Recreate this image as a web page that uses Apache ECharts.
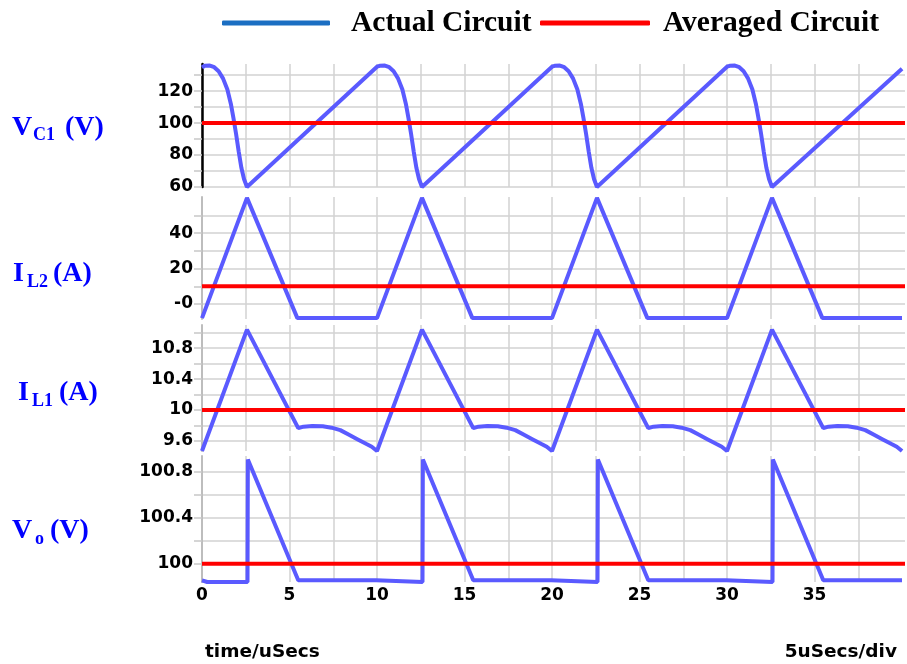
<!DOCTYPE html>
<html>
<head>
<meta charset="utf-8">
<script src="https://cdn.jsdelivr.net/npm/echarts@6/dist/echarts.min.js"></script>
<style>
  html, body { margin: 0; padding: 0; background: #fff; }
  #chart { width: 907px; height: 664px; }
</style>
</head>
<body>
<div id="chart"></div>
<script>
// ---- simulation data (time in microseconds) ----
const vc1Time = [0, 0.15, 0.45, 0.7, 0.95, 1.2, 1.45, 1.65, 1.8, 1.95, 2.1, 2.25, 2.4, 2.57,
  10, 10.15, 10.45, 10.7, 10.95, 11.2, 11.45, 11.65, 11.8, 11.95, 12.1, 12.25, 12.4, 12.57,
  20, 20.15, 20.45, 20.7, 20.95, 21.2, 21.45, 21.65, 21.8, 21.95, 22.1, 22.25, 22.4, 22.57,
  30, 30.15, 30.45, 30.7, 30.95, 31.2, 31.45, 31.65, 31.8, 31.95, 32.1, 32.25, 32.4, 32.57,
  40];
const vc1Values = [134.8, 135.9, 136, 135, 132.5, 128, 121, 112, 103, 93, 82, 72, 65, 60,
  135.3, 135.9, 136, 135, 132.5, 128, 121, 112, 103, 93, 82, 72, 65, 60,
  135.3, 135.9, 136, 135, 132.5, 128, 121, 112, 103, 93, 82, 72, 65, 60,
  135.3, 135.9, 136, 135, 132.5, 128, 121, 112, 103, 93, 82, 72, 65, 60,
  134];

const il2Time = [0, 2.57, 5.45, 10, 12.57, 15.45, 20, 22.57, 25.45, 30, 32.57, 35.45, 40];
const il2Values = [-8, 60, -8, -8, 60, -8, -8, 60, -8, -8, 60, -8, -8];

const il1Time = [0, 2.57, 5.5, 5.8, 6.3, 6.9, 7.4, 7.9, 8.4, 8.9, 9.4, 9.7,
  10, 12.57, 15.5, 15.8, 16.3, 16.9, 17.4, 17.9, 18.4, 18.9, 19.4, 19.7,
  20, 22.57, 25.5, 25.8, 26.3, 26.9, 27.4, 27.9, 28.4, 28.9, 29.4, 29.7,
  30, 32.57, 35.5, 35.8, 36.3, 36.9, 37.4, 37.9, 38.4, 38.9, 39.4, 39.7,
  40];
const il1Values = [9.47, 11.04, 9.765, 9.785, 9.792, 9.79, 9.772, 9.74, 9.68, 9.62, 9.56, 9.525,
  9.47, 11.04, 9.765, 9.785, 9.792, 9.79, 9.772, 9.74, 9.68, 9.62, 9.56, 9.525,
  9.47, 11.04, 9.765, 9.785, 9.792, 9.79, 9.772, 9.74, 9.68, 9.62, 9.56, 9.525,
  9.47, 11.04, 9.765, 9.785, 9.792, 9.79, 9.772, 9.74, 9.68, 9.62, 9.56, 9.525,
  9.47];

const voTime = [0, 0.3, 2.6, 2.62, 5.5, 9.95, 10, 12.6, 12.62, 15.5, 19.95, 20, 22.6, 22.62,
  25.5, 29.95, 30, 32.6, 32.62, 35.5, 40];
const voValues = [99.855, 99.84, 99.84, 100.91, 99.855, 99.855, 99.84, 99.84, 100.91, 99.855,
  99.855, 99.84, 99.84, 100.91, 99.855, 99.855, 99.84, 99.84, 100.91, 99.855, 99.855];

// averaged-model results (constant over the window)
const avgTime = [0, 40.17];
const vc1Avg = [100, 100];
const il2Avg = [10, 10];
const il1Avg = [10, 10];
const voAvg = [100, 100];

// axis ticks and labels
const timeTicks = [0, 2.5, 5, 7.5, 10, 12.5, 15, 17.5, 20, 22.5, 25, 27.5, 30, 32.5, 35, 37.5];
const timeLabels = [0, 5, 10, 15, 20, 25, 30, 35];
const vc1Ticks = [60, 70, 80, 90, 100, 110, 120, 130];
const vc1Labels = [60, 80, 100, 120];
const il2Ticks = [0, 10, 20, 30, 40, 50];
const il2Labels = [0, 20, 40];
const il1Ticks = [9.6, 9.8, 10, 10.2, 10.4, 10.6, 10.8, 11];
const il1Labels = [9.6, 10, 10.4, 10.8];
const voTicks = [100, 100.2, 100.4, 100.6, 100.8];
const voLabels = [100, 100.4, 100.8];

const seriesNames = ['Actual Circuit', 'Averaged Circuit'];

const zip = (t, v) => t.map((x, i) => [x, v[i]]);

const ACTUAL = '#5a5aff';
const AVG = '#ff0000';
const GRID_LINE = '#d2d2d2';
const labelFont = { fontFamily: 'DejaVu Sans', fontWeight: 'bold', fontSize: 17, color: '#000' };
const serif = 'Liberation Serif, Times New Roman, serif';

const panels = [
  { top: 64, height: 123, min: 60, max: 137, ticks: vc1Ticks, labels: vc1Labels,
    fmt: v => String(v), axisColor: '#000', axisWidth: 2.5,
    actual: zip(vc1Time, vc1Values), avg: zip(avgTime, vc1Avg) },
  { top: 197, height: 122, min: -8.5, max: 60.5, ticks: il2Ticks, labels: il2Labels,
    fmt: v => (v === 0 ? '-0' : String(v)), axisColor: '#bdbdbd', axisWidth: 2,
    actual: zip(il2Time, il2Values), avg: zip(avgTime, il2Avg) },
  { top: 325, height: 126, min: 9.47, max: 11.1, ticks: il1Ticks, labels: il1Labels,
    fmt: v => String(+v.toFixed(1)), axisColor: '#bdbdbd', axisWidth: 2,
    actual: zip(il1Time, il1Values), avg: zip(avgTime, il1Avg) },
  { top: 456, height: 126, min: 99.84, max: 100.94, ticks: voTicks, labels: voLabels,
    fmt: v => String(+v.toFixed(1)), axisColor: '#bdbdbd', axisWidth: 2,
    actual: zip(voTime, voValues), avg: zip(avgTime, voAvg) }
];

const grid = [], xAxis = [], yAxis = [], series = [];
panels.forEach((p, i) => {
  grid.push({ left: 202, width: 703, top: p.top, height: p.height });
  const last = i === panels.length - 1;
  xAxis.push({
    type: 'value', gridIndex: i, min: 0, max: 40.17,
    axisLine: { show: false },
    axisTick: { show: false, customValues: timeTicks },
    splitLine: { show: true, lineStyle: { color: GRID_LINE, width: 1.5 } },
    axisLabel: Object.assign({ show: last, customValues: timeLabels, margin: 5 }, labelFont)
  });
  yAxis.push({
    type: 'value', gridIndex: i, min: p.min, max: p.max,
    axisLine: { show: true, lineStyle: { color: p.axisColor, width: p.axisWidth } },
    axisTick: { show: true, length: 8, customValues: p.ticks, lineStyle: { color: '#c8c8c8', width: 1.5 } },
    splitLine: { show: true, lineStyle: { color: GRID_LINE, width: 1.5 } },
    axisLabel: Object.assign({ customValues: p.labels, formatter: p.fmt, margin: 9 }, labelFont)
  });
  series.push({
    name: seriesNames[0], type: 'line', xAxisIndex: i, yAxisIndex: i,
    data: p.actual, showSymbol: false, clip: false, z: 2,
    lineStyle: { color: ACTUAL, width: 4 }, itemStyle: { color: ACTUAL }
  });
  series.push({
    name: seriesNames[1], type: 'line', xAxisIndex: i, yAxisIndex: i,
    data: p.avg, showSymbol: false, clip: false, z: 3,
    lineStyle: { color: AVG, width: 4 }, itemStyle: { color: AVG }
  });
});

const legendText = { fontFamily: serif, fontWeight: 'bold', fontSize: 29.5, color: '#000' };
const legend = [
  { left: 217, top: 3, icon: 'roundRect', itemWidth: 108, itemHeight: 5, selectedMode: false,
    data: [{ name: seriesNames[0], itemStyle: { color: '#1b6ec2' } }],
    textStyle: Object.assign({ padding: [0, 0, 0, 16] }, legendText) },
  { left: 535, top: 3, icon: 'roundRect', itemWidth: 110, itemHeight: 5, selectedMode: false,
    data: [{ name: seriesNames[1], itemStyle: { color: '#ff0000' } }],
    textStyle: Object.assign({ padding: [0, 0, 0, 8] }, legendText) }
];

// panel titles with subscripts
function t(text, x, y, size) {
  return { type: 'text', x: x, y: y, silent: true,
    style: { text: text, fontFamily: serif, fontWeight: 'bold', fontSize: size, fill: '#0000ff',
      align: 'left', verticalAlign: 'middle' } };
}
const bottomText = { fontFamily: 'DejaVu Sans', fontWeight: 'bold', fontSize: 18.5, fill: '#000', verticalAlign: 'middle' };
const graphic = [
  t('V', 12, 128, 28), t('C1', 33, 135, 18), t('(V)', 65, 128, 28),
  t('I', 13, 274, 28), t('L2', 27, 282, 18), t('(A)', 53, 274, 28),
  t('I', 18, 393, 28), t('L1', 32, 401, 18), t('(A)', 59, 393, 28),
  t('V', 12, 531, 28), t('o', 35, 539, 18), t('(V)', 50, 531, 28),
  { type: 'text', x: 205, y: 652, silent: true,
    style: Object.assign({ text: 'time/uSecs', align: 'left' }, bottomText) },
  { type: 'text', x: 897, y: 652, silent: true,
    style: Object.assign({ text: '5uSecs/div', align: 'right' }, bottomText) }
];

const chart = echarts.init(document.getElementById('chart'), null, { renderer: 'canvas' });
chart.setOption({
  animation: false,
  backgroundColor: '#fff',
  legend: legend,
  grid: grid,
  xAxis: xAxis,
  yAxis: yAxis,
  series: series,
  graphic: graphic
});
</script>
</body>
</html>
